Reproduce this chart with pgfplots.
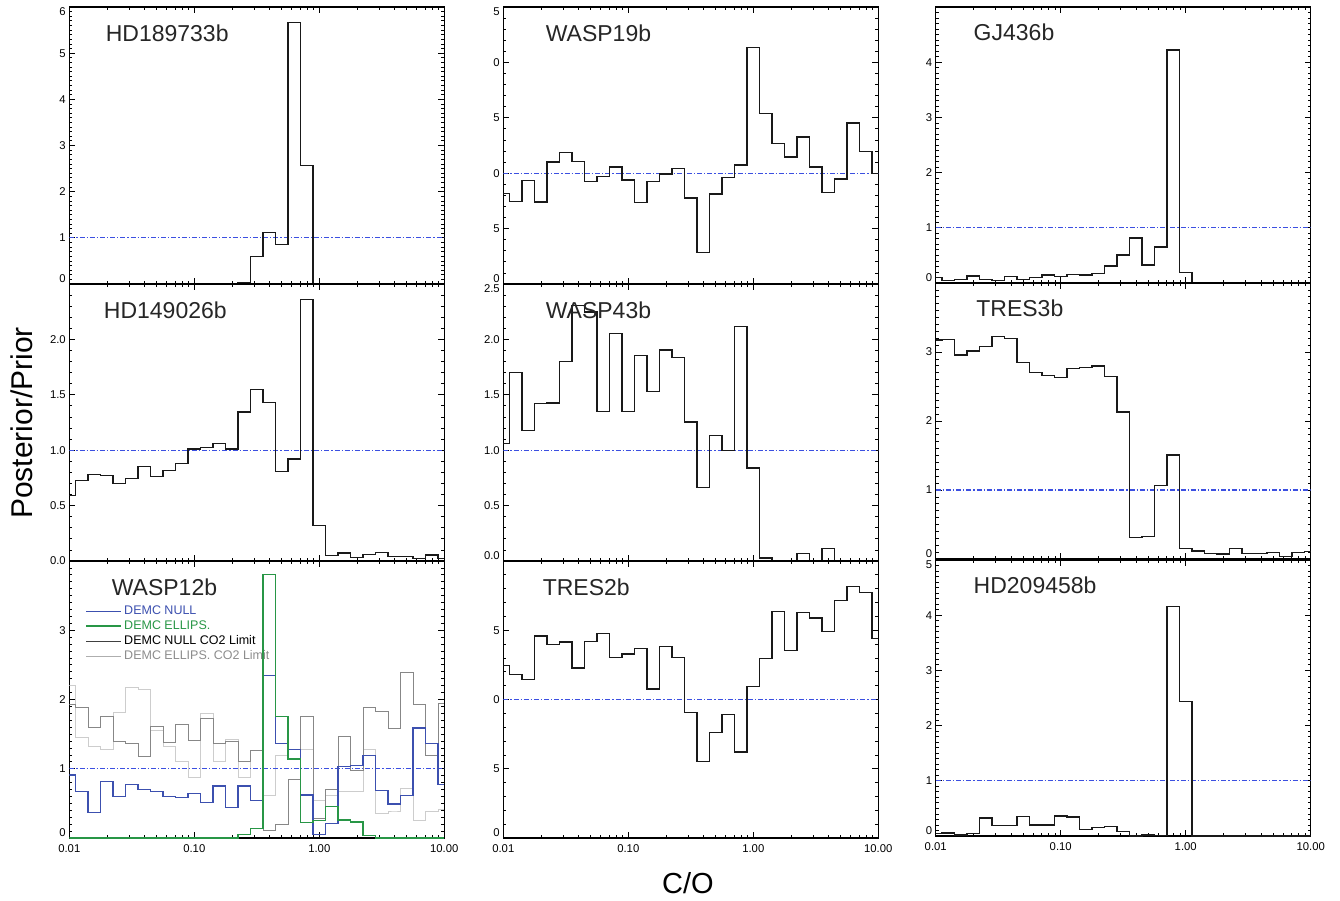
\documentclass[border=0pt]{standalone}
\usepackage{fontspec}
\setmainfont{Liberation Sans}
\usepackage{pgfplots}
\usepackage{pgfplotstable}
\pgfplotsset{compat=1.18}

\definecolor{refblue}{RGB}{60,80,225}
\definecolor{nullblue}{RGB}{60,80,175}
\definecolor{ellgreen}{RGB}{40,150,70}
\definecolor{darkgr}{RGB}{135,135,135}
\definecolor{lightgr}{RGB}{205,205,205}

% labels at the panel joins are nudged, as in the original plot
\newcommand{\up}[1]{\raisebox{1.5pt}[0pt][0pt]{#1}}
\newcommand{\dn}[1]{\raisebox{-8.5pt}[0pt][0pt]{#1}}

% posterior/prior per bin, bin centres at log10(C/O)
\pgfplotstableread{
lc   hd189 hd149 wnull well wnullc wellc w19   w43   tr2   gj436 tr3   hd209
-2.0 0     0.59  0.91  0    1.93   2.21  0.816 1.062 1.246 0.096 3.174 0.04
-1.9 0     0.726 0.667 0    1.89   1.45  0.744 1.70  1.179 0.048 3.18  0.055
-1.8 0     0.78  0.37  0    1.60   1.32  0.933 1.18  1.143 0.066 2.957 0.018
-1.7 0     0.77  0.815 0    1.76   1.28  0.741 1.42  1.459 0.127 3.014 0.04
-1.6 0     0.70  0.60  0    1.40   1.81  1.10  1.425 1.399 0.066 3.077 0.327
-1.5 0     0.747 0.777 0    1.37   2.18  1.19  1.80  1.415 0.048 3.222 0.194
-1.4 0     0.855 0.705 0    1.18   2.14  1.107 2.307 1.227 0.114 3.198 0.188
-1.3 0     0.76  0.667 0    1.61   1.55  0.924 2.247 1.418 0.066 2.85  0.35
-1.2 0     0.816 0.60  0    1.38   1.32  0.972 1.347 1.476 0.10  2.705 0.20
-1.1 0     0.877 0.585 0    1.64   1.10  1.056 2.052 1.302 0.145 2.657 0.20
-1.0 0     1.01  0.643 0    1.41   0.875 0.939 1.35  1.329 0.114 2.628 0.364
-0.9 0     1.024 0.513 0    1.73   1.80  0.738 1.854 1.367 0.157 2.758 0.345
-0.8 0     1.06  0.753 0    1.37   1.10  0.924 1.527 1.075 0.145 2.773 0.12
-0.7 0     1.012 0.44  0    1.40   1.43  0.993 1.905 1.384 0.175 2.797 0.15
-0.6 0.02  1.346 0.753 0.05 1.11   0.875 1.044 1.839 1.302 0.307 2.643 0.17
-0.5 0.59  1.545 0.537 0.14 1.27   1.27  0.777 1.254 0.906 0.506 2.13  0.08
-0.4 1.11  1.428 2.35  3.81 0.105  0.61  0.282 0.663 0.551 0.813 0.309 0.0
-0.3 0.855 0.807 1.36  1.75 0.2    1.19  0.813 1.134 0.761 0.325 0.324 0.018
-0.2 5.66  0.92  1.28  1.14 0.85   1.28  0.963 0.996 0.891 0.65  1.063 0.01
-0.1 2.56  2.36  0.62  0.225 1.75  1.28  1.074 2.118 0.621 4.22  1.507 4.16
0.0  0     0.32  0.05  0.25 0.28   0.55  2.136 0.84  1.094 0.193 0.155 2.436
0.1  0     0.048 0.21  0.46 0.70   0.61  1.536 0.027 1.295 0     0.116 0
0.2  0     0.072 1.03  0.26 1.47   0.68  1.266 0.003 1.633 0     0.082 0
0.3  0     0.033 1.05  0.23 0.98   0.67  1.146 0     1.353 0     0.072 0
0.4  0     0.057 1.19  0.04 1.89   1.28  1.326 0.066 1.628 0     0.155 0
0.5  0     0.078 0.69  0    1.83   0.36  1.056 0     1.589 0     0.082 0
0.6  0     0.042 0.49  0    1.59   0.39  0.828 0.111 1.493 0     0.082 0
0.7  0     0.039 0.61  0    2.39   0.72  0.948 0     1.715 0     0.092 0
0.8  0     0.024 1.59  0    1.93   0.25  1.452 0     1.816 0     0.034 0
0.9  0     0.054 1.36  0    1.20   0.38  1.197 0     1.771 0     0.097 0
1.0  0     0.02  0.77  0    1.94   0.41  0.996 0     1.44  0     0.106 0
}\histos

\pgfplotsset{
  panel/.style={
    scale only axis, width=375pt, height=277pt,
    anchor=north west,
    xmin=-2, xmax=1, ymin=0,
    xtick={-2,-1,0,1},
    xticklabels={,,,},
    minor xtick={-1.69897,-1.52288,-1.39794,-1.30103,-1.22185,-1.15490,-1.09691,-1.04576,
                 -0.69897,-0.52288,-0.39794,-0.30103,-0.22185,-0.15490,-0.09691,-0.04576,
                 0.30103,0.47712,0.60206,0.69897,0.77815,0.84510,0.90309,0.95424},
    tick align=inside,
    major tick length=6pt, minor tick length=3pt,
    every tick/.style={black, line width=0.8pt},
    axis line style={line width=1.1pt},
    tick label style={font=\fontsize{11.3}{13}\selectfont},
    xticklabel style={yshift=-3pt},
    /pgf/number format/assume math mode=true,
    clip mode=individual,
  },
  bottomrow/.style={xticklabels={0.01,0.10,1.00,10.00}},
  hist/.style={const plot mark mid, black!90, line width=1.3pt, no marks},
  unity/.style={draw=refblue, line width=1.25pt, no marks,
    dash pattern=on 5pt off 2pt on 1.2pt off 2pt},
}
\tikzset{ptitle/.style={anchor=base west, font=\fontsize{23}{26}\selectfont, black!85}}

\begin{document}
\begin{tikzpicture}
\path[use as bounding box] (0,0) rectangle (1340pt,-900pt);

% ---------- column 1 ----------
\begin{axis}[panel, at={(69.3pt,-7pt)}, ymax=6,
  ytick={0,1,2,3,4,5,6}, yticklabels={\up{0},1,2,3,4,5,\dn{6}}, minor y tick num=9]
  \addplot[unity] coordinates {(-2,1) (1,1)};
  \addplot[hist] table[x=lc, y=hd189] {\histos};
  \node[ptitle] at (rel axis cs:0.088,0.877) {HD189733b};
\end{axis}

\begin{axis}[panel, at={(69.3pt,-284pt)}, ymax=2.5,
  ytick={0,0.5,1,1.5,2,2.5}, yticklabels={0.0,0.5,1.0,1.5,2.0,}, minor y tick num=4]
  \addplot[unity] coordinates {(-2,1) (1,1)};
  \addplot[hist] table[x=lc, y=hd149] {\histos};
  \node[ptitle] at (rel axis cs:0.083,0.877) {HD149026b};
\end{axis}

\begin{axis}[panel, bottomrow, at={(69.3pt,-561pt)}, ymax=4,
  ytick={0,1,2,3,4}, yticklabels={\up{0},1,2,3,}, minor y tick num=9,
  legend style={draw=none, fill=none, at={(rel axis cs:0.035,0.852)}, anchor=north west,
    font=\fontsize{12.5}{13}\selectfont, row sep=0.5pt, cells={anchor=west}},
  legend image code/.code={\draw[#1] (0pt,0pt) -- (35pt,0pt);}]
  \addlegendimage{draw=nullblue, line width=1.6pt}
  \addlegendentry{\textcolor{nullblue}{DEMC NULL}}
  \addlegendimage{draw=ellgreen, line width=1.4pt}
  \addlegendentry{\textcolor{ellgreen}{DEMC ELLIPS.}}
  \addlegendimage{draw=black!75, line width=0.7pt}
  \addlegendentry{DEMC NULL CO2 Limit}
  \addlegendimage{draw=lightgr!85!black, line width=0.7pt}
  \addlegendentry{\textcolor{black!45}{DEMC ELLIPS. CO2 Limit}}
  \addplot[hist, lightgr, line width=0.8pt, forget plot] table[x=lc, y=wellc] {\histos};
  \addplot[hist, darkgr, line width=0.8pt, forget plot] table[x=lc, y=wnullc] {\histos};
  \addplot[unity, forget plot] coordinates {(-2,1) (1,1)};
  \addplot[hist, nullblue, forget plot] table[x=lc, y=wnull] {\histos};
  \addplot[hist, ellgreen, forget plot] table[x=lc, y=well] {\histos};
  \node[ptitle] at (rel axis cs:0.104,0.877) {WASP12b};
\end{axis}

% ---------- column 2 ----------
\begin{axis}[panel, at={(503.3pt,-7pt)}, ymax=2.5,
  ytick={0,0.5,1,1.5,2,2.5}, yticklabels={\up{0},5,0,5,0,\dn{5}}, minor y tick num=4]
  \addplot[unity] coordinates {(-2,1) (1,1)};
  \addplot[hist] table[x=lc, y=w19] {\histos};
  \node[ptitle] at (rel axis cs:0.104,0.877) {WASP19b};
\end{axis}

\begin{axis}[panel, at={(503.3pt,-284pt)}, ymax=2.5,
  ytick={0,0.5,1,1.5,2,2.5}, yticklabels={\up{0.0},0.5,1.0,1.5,2.0,\dn{2.5}}, minor y tick num=4]
  \addplot[unity] coordinates {(-2,1) (1,1)};
  \addplot[hist] table[x=lc, y=w43] {\histos};
  \node[ptitle] at (rel axis cs:0.104,0.877) {WASP43b};
\end{axis}

\begin{axis}[panel, bottomrow, at={(503.3pt,-561pt)}, ymax=2,
  ytick={0,0.5,1,1.5,2}, yticklabels={\up{0},5,0,5,}, minor y tick num=4]
  \addplot[unity] coordinates {(-2,1) (1,1)};
  \addplot[hist] table[x=lc, y=tr2] {\histos};
  \node[ptitle] at (rel axis cs:0.096,0.877) {TRES2b};
\end{axis}

% ---------- column 3 ----------
\begin{axis}[panel, at={(935.7pt,-7pt)}, height=276pt, ymax=5,
  ytick={0,1,2,3,4,5}, yticklabels={\up{0},1,2,3,4,}, minor y tick num=9]
  \addplot[unity] coordinates {(-2,1) (1,1)};
  \addplot[hist] table[x=lc, y=gj436] {\histos};
  \node[ptitle] at (rel axis cs:0.092,0.877) {GJ436b};
\end{axis}

\begin{axis}[panel, at={(935.7pt,-283pt)}, height=276pt, ymax=4,
  ytick={0,1,2,3,4}, yticklabels={\up{0},1,2,3,}, minor y tick num=9]
  \addplot[unity] coordinates {(-2,1) (1,1)};
  \addplot[hist] table[x=lc, y=tr3] {\histos};
  \node[ptitle] at (rel axis cs:0.099,0.877) {TRES3b};
\end{axis}

\begin{axis}[panel, bottomrow, at={(935.7pt,-560pt)}, height=276pt, ymax=5,
  ytick={0,1,2,3,4,5}, yticklabels={\up{0},1,2,3,4,\dn{5}}, minor y tick num=9]
  \addplot[unity] coordinates {(-2,1) (1,1)};
  \addplot[hist] table[x=lc, y=hd209] {\histos};
  \node[ptitle] at (rel axis cs:0.092,0.877) {HD209458b};
\end{axis}

% shared axis titles
\node[rotate=90, font=\fontsize{30}{32}\selectfont] at (22pt,-423pt) {Posterior/Prior};
\node[font=\fontsize{29}{30}\selectfont] at (688pt,-883pt) {C/O};
\end{tikzpicture}
\end{document}
